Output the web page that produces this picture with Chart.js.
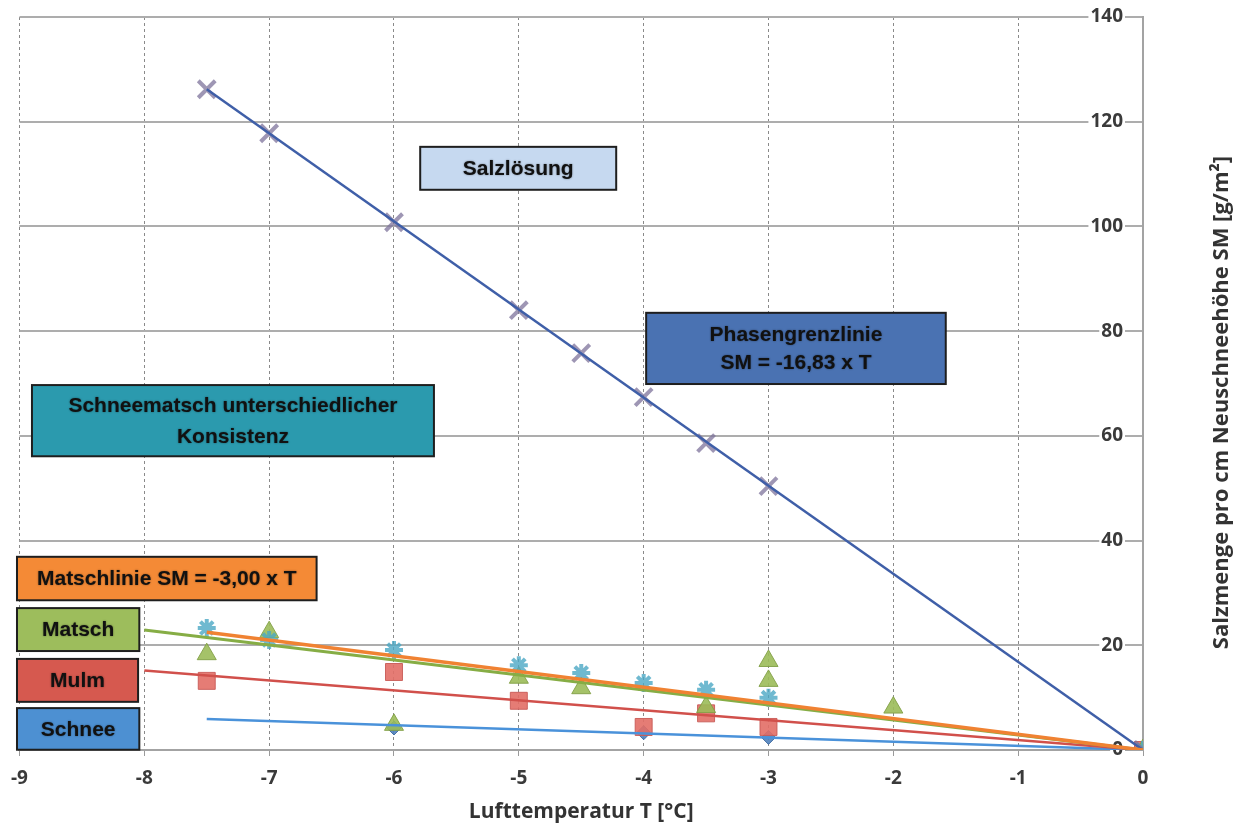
<!DOCTYPE html>
<html lang="de">
<head>
<meta charset="utf-8">
<title>Salzmenge pro cm Neuschneehöhe</title>
<script src="https://cdn.jsdelivr.net/npm/chart.js@4.4.1/dist/chart.umd.min.js"></script>
<style>
  html, body { margin: 0; padding: 0; background: #fff; }
  #wrap { width: 1241px; height: 830px; position: relative; }
</style>
</head>
<body>
<div id="wrap"><canvas id="saltChart"></canvas></div>
<script>
// === DATA ===

const xTickValues = [-9, -8, -7, -6, -5, -4, -3, -2, -1, 0];
const yTickValues = [0, 20, 40, 60, 80, 100, 120, 140];

// Salzlösung / Phasengrenze (X markers)
const phaseT = [-7.5, -7, -6, -5, -4.5, -4, -3.5, -3, 0];
const phaseSM = [126.2, 117.8, 100.8, 84.0, 75.8, 67.4, 58.6, 50.4, 0];

// Schneematsch (star markers)
const slushT = [-7.5, -7, -6, -5, -4.5, -4, -3.5, -3, 0];
const slushSM = [23.3, 21.0, 19.1, 16.2, 14.7, 12.8, 11.5, 10.0, 0];

// Matsch (triangles)
const matschT = [-7.5, -7, -6, -5, -4.5, -3.5, -3, -3, -2, 0];
const matschSM = [18.3, 22.5, 4.8, 13.8, 11.8, 8.2, 17.0, 13.2, 8.1, 0];

// Mulm (squares)
const mulmT = [-7.5, -6, -5, -4, -3.5, -3, 0];
const mulmSM = [13.2, 14.9, 9.4, 4.4, 7.0, 4.4, 0];

// Schnee (diamonds)
const schneeT = [-6, -4, -3, 0];
const schneeSM = [4.2, 3.3, 2.4, 0];

// trend lines (end points)
const phaseLineT = [-7.5, 0];
const phaseLineSM = [126.2, 0];
const matschlinieT = [-7.5, 0];
const matschlinieSM = [22.5, 0];
const matschLineT = [-8, 0];
const matschLineSM = [22.9, 0];
const mulmLineT = [-8, 0];
const mulmLineSM = [15.2, 0];
const schneeLineT = [-7.5, 0];
const schneeLineSM = [5.9, 0];

const toPoints = (xs, ys) => xs.map((x, i) => ({ x, y: ys[i] }));

const axisFont = '"Open Sans", "Liberation Sans", sans-serif';

// text boxes inside the plot (data coordinates)
const boxNotes = [
  { lines: ['Salzlösung'], x0: -5.79, x1: -4.22, y0: 115.2, y1: 107.0, fill: '#c6d9f0' },
  { lines: ['Phasengrenzlinie', 'SM = -16,83 x T'], x0: -3.98, x1: -1.58, y0: 83.5, y1: 69.9, fill: '#4a72b2', gap: 28 },
  { lines: ['Schneematsch unterschiedlicher', 'Konsistenz'], x0: -8.9, x1: -5.68, y0: 69.7, y1: 56.1, fill: '#2b9aae', gap: 31 },
  { lines: ['Matschlinie SM = -3,00 x T'], x0: -9.02, x1: -6.62, y0: 36.9, y1: 28.6, fill: '#f48a36' },
  { lines: ['Matsch'], x0: -9.02, x1: -8.04, y0: 27.1, y1: 18.9, fill: '#9dbd5c' },
  { lines: ['Mulm'], x0: -9.02, x1: -8.05, y0: 17.4, y1: 9.2, fill: '#d6594f' },
  { lines: ['Schnee'], x0: -9.02, x1: -8.04, y0: 8.0, y1: 0.05, fill: '#4d90d2' }
];

const boxPlugin = {
  id: 'boxNotes',
  afterDatasetsDraw(chart) {
    const { ctx, scales: { x, y } } = chart;
    boxNotes.forEach(b => {
      const left = x.getPixelForValue(b.x0);
      const right = x.getPixelForValue(b.x1);
      const top = y.getPixelForValue(b.y0);
      const bottom = y.getPixelForValue(b.y1);
      ctx.save();
      ctx.fillStyle = b.fill;
      ctx.fillRect(left, top, right - left, bottom - top);
      ctx.lineWidth = 2;
      ctx.strokeStyle = '#1e1e1e';
      ctx.strokeRect(left, top, right - left, bottom - top);
      ctx.font = 'bold 21px "Liberation Sans", Arial, sans-serif';
      ctx.textAlign = 'center';
      ctx.textBaseline = 'middle';
      ctx.fillStyle = '#111';
      ctx.shadowColor = 'rgba(0,0,0,0.45)';
      ctx.shadowBlur = 2;
      const cx = (left + right) / 2;
      const cy = (top + bottom) / 2 + 1;
      const gap = b.gap || 30;
      b.lines.forEach((t, i) => {
        ctx.fillText(t, cx, cy + (i - (b.lines.length - 1) / 2) * gap);
      });
      ctx.restore();
    });
  }
};

// y title reads bottom-to-top on the right side
const yTitlePlugin = {
  id: 'yTitle',
  afterDraw(chart) {
    const { ctx, chartArea } = chart;
    ctx.save();
    ctx.translate(chartArea.right + 79, (chartArea.top + chartArea.bottom) / 2 + 19);
    ctx.rotate(-Math.PI / 2);
    ctx.font = 'bold 22px ' + axisFont;
    ctx.fillStyle = '#333';
    ctx.textAlign = 'center';
    ctx.textBaseline = 'middle';
    ctx.fillText('Salzmenge pro cm Neuschneehöhe SM [g/m²]', 0, 0);
    ctx.restore();
  }
};

const lineSet = (label, xs, ys, color, width) => ({
  label,
  data: toPoints(xs, ys),
  showLine: true,
  borderColor: color,
  borderWidth: width,
  pointRadius: 0,
  fill: false
});

const markerSet = (label, xs, ys, style, radius, fill, border, width) => ({
  label,
  data: toPoints(xs, ys),
  showLine: false,
  pointStyle: style,
  pointRadius: radius,
  backgroundColor: fill,
  borderColor: border,
  pointBorderWidth: width
});

new Chart(document.getElementById('saltChart'), {
  type: 'scatter',
  data: {
    datasets: [
      lineSet('Matschlinie', matschlinieT, matschlinieSM, '#f08232', 3.5),
      lineSet('Matsch-Linie', matschLineT, matschLineSM, '#86ad45', 3),
      lineSet('Phasengrenzlinie', phaseLineT, phaseLineSM, '#3f5fa8', 2.5),
      lineSet('Mulm-Linie', mulmLineT, mulmLineSM, '#d1504b', 2.5),
      lineSet('Schnee-Linie', schneeLineT, schneeLineSM, '#4a92da', 2.5),
      markerSet('Salzlösung', phaseT, phaseSM, 'crossRot', 12, 'rgba(0,0,0,0)', 'rgba(125,115,155,0.75)', 4),
      markerSet('Schneematsch', slushT, slushSM, 'star', 9, 'rgba(0,0,0,0)', 'rgba(75,168,196,0.8)', 4),
      markerSet('Matsch', matschT, matschSM, 'triangle', 11, 'rgba(155,187,89,0.9)', 'rgba(130,160,70,0.9)', 1),
      markerSet('Mulm', mulmT, mulmSM, 'rect', 12, 'rgba(226,110,102,0.9)', 'rgba(200,90,85,0.9)', 1),
      markerSet('Schnee', schneeT, schneeSM, 'rectRot', 7, 'rgba(79,129,189,0.9)', 'rgba(60,105,160,0.9)', 1)
    ]
  },
  options: {
    responsive: true,
    maintainAspectRatio: false,
    animation: false,
    layout: { padding: { left: 16, top: 17, right: 0, bottom: 0 } },
    plugins: {
      legend: { display: false },
      tooltip: { enabled: false }
    },
    scales: {
      x: {
        type: 'linear',
        min: -9,
        max: 0,
        afterBuildTicks: scale => { scale.ticks = xTickValues.map(v => ({ value: v })); },
        afterFit: scale => { scale.height = 80; },
        grid: {
          color: '#8a8a8a',
          lineWidth: 1,
          tickLength: 6,
          tickColor: '#9a9a9a',
          tickBorderDash: []
        },
        // in v4 border.dash dashes the grid lines, not the axis line
        border: { display: true, color: '#a3a3a3', width: 2, dash: [3, 3] },
        ticks: {
          padding: 11,
          color: '#3a3a3a',
          font: { family: axisFont, size: 19, weight: 'bold' }
        },
        title: {
          display: true,
          text: 'Lufttemperatur T [°C]',
          color: '#333',
          padding: { top: 0, bottom: 5 },
          font: { family: axisFont, size: 21, weight: 'bold' }
        }
      },
      y: {
        type: 'linear',
        position: 'right',
        min: 0,
        max: 140,
        afterBuildTicks: scale => { scale.ticks = yTickValues.map(v => ({ value: v })); },
        afterFit: scale => { scale.width = 98; },
        grid: {
          color: '#adadad',
          lineWidth: 2,
          drawTicks: false
        },
        border: { display: true, color: '#a3a3a3', width: 2 },
        ticks: {
          mirror: true,
          padding: -20,
          color: '#3a3a3a',
          showLabelBackdrop: true,
          backdropColor: '#fff',
          backdropPadding: { x: 2, y: 0 },
          font: { family: axisFont, size: 19, weight: 'bold' }
        }
      }
    }
  },
  plugins: [boxPlugin, yTitlePlugin]
});
</script>
</body>
</html>
